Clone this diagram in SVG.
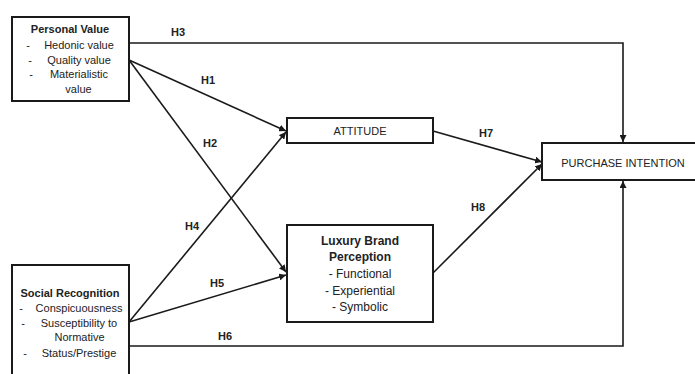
<svg xmlns="http://www.w3.org/2000/svg" width="695" height="374" viewBox="0 0 695 374">
<style>
.box{fill:#fff;stroke:#1a1a1a;stroke-width:2}
.t{font-family:"Liberation Sans",Arial,sans-serif;font-size:11px;fill:#222;text-anchor:middle}
.b{font-weight:bold}
.l{font-size:12px}
.h{font-family:"Liberation Sans",Arial,sans-serif;font-size:11px;font-weight:bold;fill:#222;text-anchor:middle}
.c{fill:none;stroke:#1a1a1a;stroke-width:1.6}
</style>
<defs>
<marker id="ah" viewBox="0 0 10 10" refX="10" refY="5" markerWidth="7" markerHeight="7" markerUnits="userSpaceOnUse" orient="auto">
<path d="M0,0 L10,5 L0,10 z" fill="#1a1a1a"/>
</marker>
</defs>
<rect width="695" height="374" fill="#fff"/>
<g id="connectors">
<polyline class="c" points="129,43 623,43 623,142" marker-end="url(#ah)"/>
<line class="c" x1="129" y1="60" x2="286" y2="131" marker-end="url(#ah)"/>
<line class="c" x1="129" y1="60" x2="286" y2="272" marker-end="url(#ah)"/>
<line class="c" x1="129" y1="322" x2="286" y2="132" marker-end="url(#ah)"/>
<line class="c" x1="129" y1="322" x2="286" y2="275" marker-end="url(#ah)"/>
<polyline class="c" points="129,346 623,346 623,181" marker-end="url(#ah)"/>
<line class="c" x1="433" y1="131" x2="542" y2="162" marker-end="url(#ah)"/>
<line class="c" x1="433" y1="273" x2="542" y2="164" marker-end="url(#ah)"/>
<text class="h" x="178" y="36">H3</text>
<text class="h" x="208" y="84">H1</text>
<text class="h" x="210" y="147">H2</text>
<text class="h" x="192" y="230">H4</text>
<text class="h" x="217" y="287">H5</text>
<text class="h" x="225" y="340">H6</text>
<text class="h" x="486" y="137">H7</text>
<text class="h" x="478" y="211">H8</text>
</g>
<g id="personal-value">
<rect class="box" x="12" y="17" width="117" height="84"/>
<text class="t b" x="70" y="33">Personal Value</text>
<text class="t" x="28" y="49">-</text>
<text class="t" x="79" y="49">Hedonic value</text>
<text class="t" x="30" y="64">-</text>
<text class="t" x="79" y="64">Quality value</text>
<text class="t" x="31" y="78">-</text>
<text class="t" x="79" y="78">Materialistic</text>
<text class="t" x="78.5" y="93">value</text>
</g>
<g id="social-recognition">
<rect class="box" x="12" y="265" width="117" height="120"/>
<text class="t b" x="70" y="297">Social Recognition</text>
<text class="t" x="21" y="312">-</text>
<text class="t" x="79" y="312">Conspicuousness</text>
<text class="t" x="23" y="327">-</text>
<text class="t" x="79" y="327">Susceptibility to</text>
<text class="t" x="79.5" y="341">Normative</text>
<text class="t" x="25" y="357">-</text>
<text class="t" x="79" y="357">Status/Prestige</text>
</g>
<g id="attitude">
<rect class="box" x="287" y="118" width="146" height="25"/>
<text class="t" x="360" y="135">ATTITUDE</text>
</g>
<g id="luxury-brand-perception">
<rect class="box" x="287" y="225" width="146" height="97"/>
<text class="t l b" x="360" y="245">Luxury Brand</text>
<text class="t l b" x="360" y="261">Perception</text>
<text class="t l" x="360" y="278">- Functional</text>
<text class="t l" x="360" y="295">- Experiential</text>
<text class="t l" x="360" y="311">- Symbolic</text>
</g>
<g id="purchase-intention">
<rect class="box" x="542" y="143" width="160" height="37"/>
<text class="t" x="623" y="167">PURCHASE INTENTION</text>
</g>
</svg>
